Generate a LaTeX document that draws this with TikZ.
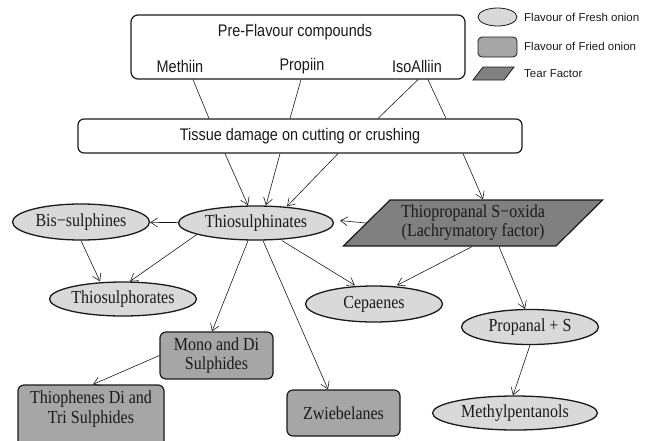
\documentclass[tikz,border=0pt]{standalone}
\usepackage{fontspec}
\setmainfont{Liberation Serif}
\newfontfamily\narrowserif[FakeStretch=0.87]{Liberation Serif}
\newfontfamily\arialfont[FakeStretch=0.86]{Liberation Sans}
\newfontfamily\keyfont{Liberation Sans}
\usepackage{tikz}
\usetikzlibrary{arrows.meta,shapes.geometric}
\definecolor{freshgray}{HTML}{D9D9D9}
\definecolor{friedgray}{HTML}{A6A6A6}
\definecolor{teargray}{HTML}{808080}
\definecolor{ink}{HTML}{1A1A1A}
\tikzset{
  fresh/.style={ellipse, draw=ink, line width=1.3pt, fill=freshgray, inner sep=0pt, text=ink, font=\narrowserif\fontsize{18.4}{19.5}\selectfont},
  fried/.style={rectangle, rounded corners=6pt, draw=ink, line width=1.2pt, fill=friedgray, align=center, inner sep=0pt, text=ink, font=\narrowserif\fontsize{18.4}{19.5}\selectfont},
  tear/.style={trapezium, trapezium left angle=41.5, trapezium right angle=138.5, trapezium stretches=true, draw=ink, line width=1.2pt, fill=teargray, align=center, inner sep=0pt, text=ink, font=\narrowserif\fontsize{18.4}{19}\selectfont},
  stage/.style={rectangle, rounded corners=7pt, draw=ink, line width=1.2pt, fill=white, inner sep=0pt},
  labsans/.style={text=ink, font=\arialfont\fontsize{16.8}{17}\selectfont},
  labkey/.style={text=ink, anchor=west, inner sep=0pt, font=\keyfont\fontsize{11.5}{13}\selectfont},
  conn/.style={draw=ink, line width=0.6pt, -{Straight Barb[length=7pt,width=9pt]}},
  link/.style={draw=ink, line width=0.6pt},
}
\begin{document}
\begin{tikzpicture}[x=1pt,y=-1pt]
  \clip (0,0) rectangle (645,440);
  \node[stage, minimum width=334, minimum height=64] (pre) at (298,47) {};
  \node[labsans] (pretitle) at (295,32) {Pre-Flavour compounds};
  \node[labsans] (meth) at (180,66) {Methiin};
  \node[labsans] (propi) at (302,66) {Propiin};
  \node[labsans] (iso) at (417,66) {IsoAlliin};
  \node[stage, rounded corners=6pt, minimum width=444, minimum height=34, labsans] (tissue) at (300,136) {Tissue damage on cutting or crushing};

  \node[fresh, minimum width=39, minimum height=18, line width=0.8pt] (keyfresh) at (497.5,17) {};
  \node[fried, minimum width=39, minimum height=20, rounded corners=4pt, line width=0.8pt] (keyfried) at (497.5,47) {};
  \filldraw[draw=ink, fill=teargray, line width=0.8pt] (483,67) -- (514,67) -- (504,80) -- (473,80) -- cycle;
  \node[labkey] (keyfreshtxt) at (524,17) {Flavour of Fresh onion};
  \node[labkey] (keyfriedtxt) at (524,46) {Flavour of Fried onion};
  \node[labkey] (keyteartxt) at (524,74) {Tear Factor};

  \node[fresh, minimum width=155, minimum height=34] (thio) at (256,223) {Thiosulphinates};
  \node[fresh, minimum width=137, minimum height=36] (bis) at (81,222) {Bis−sulphines};
  \node[fresh, minimum width=147, minimum height=34] (thsph) at (123,299) {Thiosulphorates};
  \node[tear, minimum width=260, minimum height=46] (lachry) at (473,223) {Thiopropanal S−oxida\\(Lachrymatory factor)};
  \node[fresh, minimum width=137, minimum height=36] (cep) at (374,304) {Cepaenes};
  \node[fresh, minimum width=137, minimum height=35] (prop) at (530,327) {Propanal + S};
  \node[fresh, minimum width=165, minimum height=34] (mpent) at (515,413) {Methylpentanols};
  \node[fried, minimum width=113, minimum height=46] (zwieb) at (343.5,413) {Zwiebelanes};
  \node[fried, minimum width=113, minimum height=47] (mono) at (216.5,355.5) {Mono and Di\\Sulphides};
  \node[fried, minimum width=146, minimum height=62] (thioph) at (91,416) {};
  \node[align=center, text=ink, font=\narrowserif\fontsize{18.4}{19.5}\selectfont] (thiophtxt) at (91,409) {Thiophenes Di and\\Tri Sulphides};

  \draw[link] ([xshift=-105]pre.south) -- ([xshift=-91]tissue.north);
  \draw[link] ([xshift=3]pre.south) -- ([xshift=-10]tissue.north);
  \draw[link] ([xshift=120]pre.south) -- ([xshift=78]tissue.north);
  \draw[link] ([xshift=130]pre.south) -- ([xshift=146]tissue.north);

  \draw[conn] ([xshift=-75]tissue.south) -- ([xshift=-8]thio.north);
  \draw[conn] ([xshift=-20]tissue.south) -- ([xshift=10]thio.north);
  \draw[conn] ([xshift=38]tissue.south) -- ([xshift=31,yshift=-1]thio.north);
  \draw[conn] ([xshift=163]tissue.south) -- ([xshift=10]lachry.north);

  \draw[conn] (thio) -- (bis);
  \draw[conn] (bis.south) -- ([xshift=-23]thsph.north);
  \draw[conn] (thio.191) -- ([xshift=7]thsph.north);
  \draw[conn] ([xshift=-8]thio.south) -- ([xshift=-4.5]mono.north);
  \draw[conn] ([xshift=7]thio.south) -- ([xshift=-15.5]zwieb.north);
  \draw[conn] ([xshift=26]thio.south) -- ([xshift=-19]cep.north);
  \draw[conn, shorten >=6pt] (lachry.west) -- ([yshift=3]thio.east);
  \draw[conn] ([xshift=-1]lachry.south) -- ([xshift=23]cep.north);
  \draw[conn] ([xshift=26]lachry.south) -- ([xshift=-5]prop.north);
  \draw[conn] (prop.south) -- ([xshift=-2]mpent.north);
  \draw[conn] (mono.west) -- ([xshift=2]thioph.north);
\end{tikzpicture}
\end{document}
